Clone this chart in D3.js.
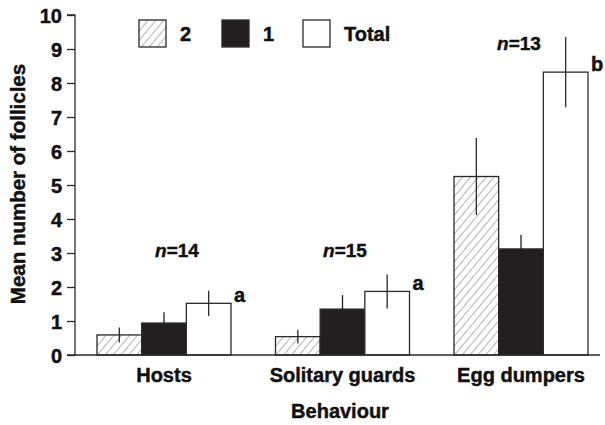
<!DOCTYPE html>
<html><head><meta charset="utf-8">
<script src="https://cdn.jsdelivr.net/npm/d3@7"></script>
<style>body{margin:0;background:#fff;} svg text{font-family:"Liberation Sans",Arial,sans-serif !important;font-weight:700 !important;fill:#111;stroke:#111;stroke-width:0.45px;}</style>
</head><body>
<svg id="c" width="605" height="425"></svg>
<script>
const categories = ["Hosts", "Solitary guards", "Egg dumpers"];
const seriesNames = ["2", "1", "Total"];
const means2 = [0.59, 0.54, 5.25];
const err2 = [0.22, 0.2, 1.13];
const means1 = [0.94, 1.35, 3.12];
const err1 = [0.32, 0.41, 0.41];
const meansTotal = [1.52, 1.87, 8.32];
const errTotal = [0.37, 0.5, 1.03];
const nLabels = ["14", "15", "13"];
const sigLetters = ["a", "a", "b"];
const yTicks = [0,1,2,3,4,5,6,7,8,9,10];

const svg = d3.select("#c");
const x0 = 75, x1 = 600;
const y = d3.scaleLinear().domain([0,10]).range([355,15]);
const xs = d3.scaleBand().domain(seriesNames).range([0, 134]);
const gx = c => 97 + categories.indexOf(c)*178.5;

const defs = svg.append("defs");
const pat = defs.append("pattern").attr("id","hatch").attr("patternUnits","userSpaceOnUse")
  .attr("width",6).attr("height",6).attr("patternTransform","rotate(40)");
pat.append("rect").attr("width",6).attr("height",6).attr("fill","#fff");
pat.append("line").attr("x1",0).attr("y1",0).attr("x2",0).attr("y2",6).attr("stroke","#444").attr("stroke-width",0.8);

const fills = {"2":"url(#hatch)", "1":"#231f20", "Total":"#fff"};
const data = categories.map((c,i)=>({c, vals:[
  {s:"2", v:means2[i], e:err2[i]},
  {s:"1", v:means1[i], e:err1[i]},
  {s:"Total", v:meansTotal[i], e:errTotal[i]}]}));

const g = svg.append("g");
data.forEach(d=>{
  const gg = g.append("g").attr("transform",`translate(${gx(d.c)},0)`);
  gg.selectAll("rect").data(d.vals).join("rect")
    .attr("x", v=>xs(v.s)).attr("width", xs.bandwidth())
    .attr("y", v=>y(v.v)).attr("height", v=>y(0)-y(v.v))
    .attr("fill", v=>fills[v.s]).attr("stroke","#2a2a2a").attr("stroke-width",1.3);
  gg.selectAll("line.err").data(d.vals).join("line").attr("class","err")
    .attr("x1", v=>xs(v.s)+xs.bandwidth()/2).attr("x2", v=>xs(v.s)+xs.bandwidth()/2)
    .attr("y1", v=>y(v.v+v.e)).attr("y2", v=>y(v.v-v.e))
    .attr("stroke", v=>v.s==="1" ? "#231f20" : "#2a2a2a").attr("stroke-width",1.3);
});

// axes
const yAxis = d3.axisLeft(y).tickValues(yTicks).tickSize(8).tickPadding(5).tickFormat(d3.format("d"));
const ya = svg.append("g").attr("transform",`translate(${x0},0)`).call(yAxis)
  .attr("font-family",null).attr("font-size",null);
ya.select(".domain").attr("stroke","#2a2a2a").attr("stroke-width",1.3).attr("d",`M-8,15H0V355H-8`);
ya.selectAll(".tick line").attr("stroke","#2a2a2a").attr("stroke-width",1.3);
ya.selectAll(".tick text").attr("font-size","20px").attr("fill","#111").attr("dy","0.36em");
svg.append("line").attr("x1",x0).attr("x2",x1).attr("y1",y(0)).attr("y2",y(0)).attr("stroke","#2a2a2a").attr("stroke-width",1.3);

// category labels
svg.selectAll("text.cat").data(categories).join("text").attr("class","cat")
  .attr("x", c=>gx(c)+67).attr("y",382).attr("text-anchor","middle").attr("font-size","20px").text(c=>c);
svg.append("text").attr("x",340).attr("y",418).attr("text-anchor","middle").attr("font-size","20px").text("Behaviour");
svg.append("text").attr("transform","translate(25,184) rotate(-90)").attr("text-anchor","middle").attr("font-size","20.5px").text("Mean number of follicles");

// n labels
const nPos = [[177,257],[345,257],[519,50]];
nLabels.forEach((n,i)=>{
  const t = svg.append("text").attr("x",nPos[i][0]).attr("y",nPos[i][1]).attr("text-anchor","middle").attr("font-size","19px");
  t.append("tspan").style("font-style","italic").text("n");
  t.append("tspan").text("=" + n);
});
// significance letters
sigLetters.forEach((s,i)=>{
  svg.append("text").attr("x", gx(categories[i])+137).attr("y", y(meansTotal[i])-1).attr("font-size","20px").text(s);
});

// legend
const leg = [[139,"2"],[222,"1"],[303,"Total"]];
leg.forEach(([lx,s])=>{
  svg.append("rect").attr("x",lx).attr("y",20).attr("width",27).attr("height",27)
    .attr("fill",fills[s]).attr("stroke","#2a2a2a").attr("stroke-width",1.3);
  svg.append("text").attr("x",lx+41).attr("y",41).attr("font-size","20px").text(s);
});
</script>
</body></html>
